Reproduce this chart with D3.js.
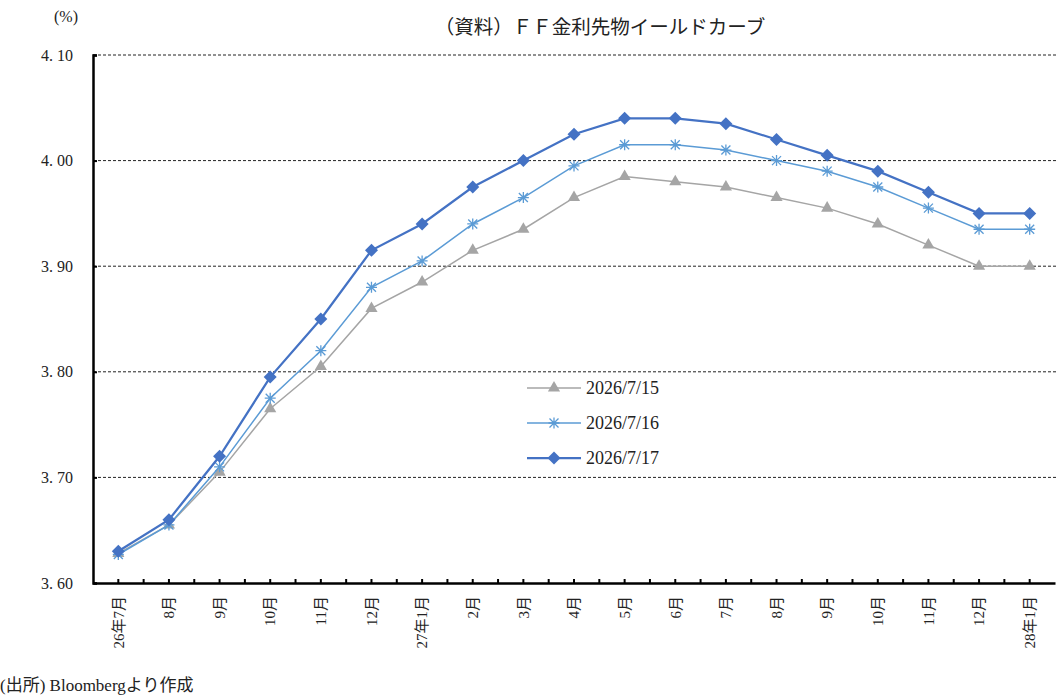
<!DOCTYPE html>
<html>
<head>
<meta charset="utf-8">
<script src="https://cdn.jsdelivr.net/npm/d3@7"></script>
<style>
  body { margin: 0; background: #fff; }
  text { font-family: "Liberation Serif", "DejaVu Serif", "Noto Sans CJK JP", serif; fill: #222; }
</style>
</head>
<body>
<svg width="1060" height="695"></svg>
<script>
// data
var months = ['26年7月','8月','9月','10月','11月','12月','27年1月','2月','3月','4月','5月','6月','7月','8月','9月','10月','11月','12月','28年1月'];
var s0715 = [3.628,3.655,3.705,3.765,3.805,3.86,3.885,3.915,3.935,3.965,3.985,3.98,3.975,3.965,3.955,3.94,3.92,3.90,3.90];
var s0716 = [3.627,3.655,3.71,3.775,3.82,3.88,3.905,3.94,3.965,3.995,4.015,4.015,4.01,4.00,3.99,3.975,3.955,3.935,3.935];
var s0717 = [3.630,3.66,3.72,3.795,3.85,3.915,3.94,3.975,4.00,4.025,4.04,4.04,4.035,4.02,4.005,3.99,3.97,3.95,3.95];
var yTicks = [3.60,3.70,3.80,3.90,4.00,4.10];
var seriesNames = ['2026/7/15','2026/7/16','2026/7/17'];

var series = [
  {name: seriesNames[0], values: s0715, color: '#a5a5a5', width: 1.5, marker: 'triangle'},
  {name: seriesNames[1], values: s0716, color: '#5b9bd5', width: 1.5, marker: 'star'},
  {name: seriesNames[2], values: s0717, color: '#4472c4', width: 2.25, marker: 'diamond'}
];

var svg = d3.select('svg');
var plotL = 93, plotR = 1055, plotT = 55, plotB = 583;

// month names repeat, so the band scale works on indices
var idx = months.map(function(d, i){ return i; });
var x = d3.scaleBand().domain(idx).range([plotL, plotR]);
var y = d3.scaleLinear().domain([3.6, 4.1]).range([plotB, plotT]);

function cx(i) { return x(i) + x.bandwidth() / 2; }

// title
svg.append('text')
  .attr('x', 600).attr('y', 34)
  .attr('text-anchor', 'middle')
  .style('font-size', '19.5px')
  .text('（資料）ＦＦ金利先物イールドカーブ');

svg.append('text')
  .attr('x', 54).attr('y', 22)
  .style('font-size', '16px')
  .text('(%)');

// grid
svg.append('g')
  .selectAll('line')
  .data(yTicks.filter(function(d){ return d > 3.6; }))
  .enter()
  .append('line')
  .attr('x1', plotL).attr('x2', plotR + 2)
  .attr('y1', function(d){ return y(d); })
  .attr('y2', function(d){ return y(d); })
  .attr('stroke', '#222')
  .attr('stroke-width', 1)
  .attr('stroke-dasharray', '3,2');

// y axis
var yAxis = svg.append('g')
  .attr('transform', 'translate(' + plotL + ',0)')
  .call(d3.axisLeft(y).tickValues(yTicks).tickSize(-4).tickPadding(20).tickFormat(d3.format('.2f')));
yAxis.select('.domain').attr('stroke', '#000').attr('stroke-width', 2.5);
yAxis.selectAll('.tick line').attr('stroke', '#000').attr('stroke-width', 2);
yAxis.selectAll('text')
  .style('font-size', '16px')
  .text(function(d){ return d3.format('.2f')(d).replace('.', '. '); });

// x axis: ticks at centers and boundaries
var xAxis = svg.append('g')
  .attr('transform', 'translate(0,' + plotB + ')')
  .call(d3.axisBottom(x).tickSize(-4).tickSizeOuter(0).tickPadding(8)
    .tickFormat(function(i){ return months[i]; }));
xAxis.select('.domain').attr('stroke', '#000').attr('stroke-width', 2.5);
xAxis.selectAll('.tick line').attr('stroke', '#000').attr('stroke-width', 2);
xAxis.selectAll('.bound')
  .data(idx.slice(1))
  .enter()
  .append('line')
  .attr('class', 'bound')
  .attr('x1', function(i){ return x(i); })
  .attr('x2', function(i){ return x(i); })
  .attr('y1', 0).attr('y2', -4)
  .attr('stroke', '#000').attr('stroke-width', 2);
xAxis.selectAll('.tick text')
  .style('font-size', '15px')
  .attr('text-anchor', 'end')
  .attr('transform', 'rotate(-90)')
  .attr('x', -13).attr('y', 0)
  .attr('dy', '0.35em');

// lines
var line = d3.line()
  .x(function(d, i){ return cx(i); })
  .y(function(d){ return y(d); });

function markerPath(type) {
  if (type == 'triangle') return d3.symbol().type(d3.symbolTriangle).size(64)();
  if (type == 'diamond') return 'M0,-6.5L6.5,0L0,6.5L-6.5,0Z';
  return 'M-5.5,0L5.5,0M0,-5.5L0,5.5M-4.5,-4.5L4.5,4.5M-4.5,4.5L4.5,-4.5';
}

series.forEach(function(s){
  svg.append('path')
    .datum(s.values)
    .attr('d', line)
    .attr('fill', 'none')
    .attr('stroke', s.color)
    .attr('stroke-width', s.width);

  svg.append('g')
    .selectAll('path')
    .data(s.values)
    .enter()
    .append('path')
    .attr('transform', function(d, i){
      return 'translate(' + cx(i) + ',' + y(d) + ')';
    })
    .attr('d', markerPath(s.marker))
    .attr('fill', s.marker == 'star' ? 'none' : s.color)
    .attr('stroke', s.color)
    .attr('stroke-width', s.marker == 'star' ? 1.3 : 0);
});

// legend
var legend = svg.append('g').attr('transform', 'translate(527,388)');
series.forEach(function(s, i){
  var g = legend.append('g').attr('transform', 'translate(0,' + (i * 35) + ')');
  g.append('line')
    .attr('x1', 0).attr('x2', 54)
    .attr('stroke', s.color)
    .attr('stroke-width', s.width);
  g.append('path')
    .attr('transform', 'translate(27,0)')
    .attr('d', markerPath(s.marker))
    .attr('fill', s.marker == 'star' ? 'none' : s.color)
    .attr('stroke', s.color)
    .attr('stroke-width', s.marker == 'star' ? 1.3 : 0);
  g.append('text')
    .attr('x', 59).attr('y', 6)
    .style('font-size', '18px')
    .text(s.name);
});

// source
svg.append('text')
  .attr('x', 0).attr('y', 691)
  .style('font-size', '17px')
  .text('(出所) Bloombergより作成');
</script>
</body>
</html>
